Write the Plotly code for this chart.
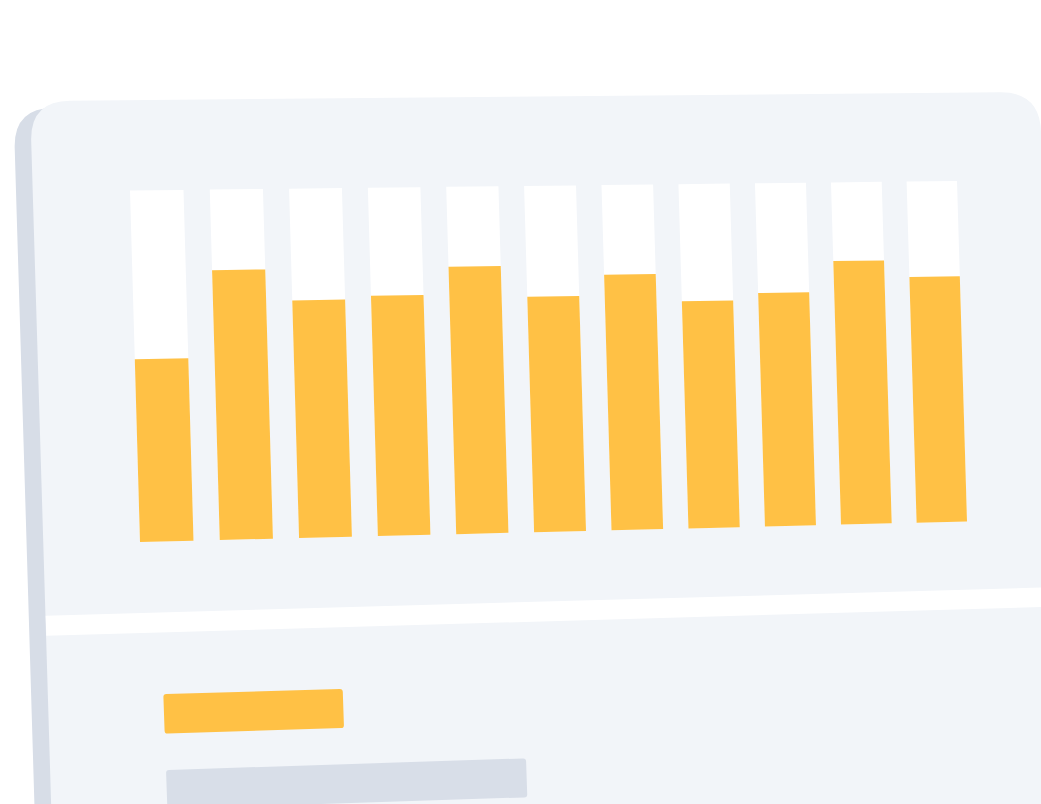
import numpy as np
import plotly.graph_objects as go

# ---- data ----
categories = [f"B{i+1}" for i in range(11)]
values = [52, 77, 68, 69, 77, 68, 74, 66, 68, 77, 72]   # filled share (%)
full = [100] * len(values)

# ---- colours ----
YELLOW = "#FFC145"
CARD = "#F2F5F9"
SHADOW = "#D7DDE7"
GRAY = "#D8DEE8"

W, H = 1041, 804

# perspective mapping of the chart plane (slot u, value v in 0..1) onto the page
BAR_W = 0.67
U = len(values) - 1 + BAR_W
src = [(0, 1), (U, 1), (0, 0), (U, 0)]
dst = [(130, 190.5), (957, 181), (140, 542), (967, 521.5)]
A, b = [], []
for (u, v), (x, y) in zip(src, dst):
    A.append([u, v, 1, 0, 0, 0, -u * x, -v * x]); b.append(x)
    A.append([0, 0, 0, u, v, 1, -u * y, -v * y]); b.append(y)
h = np.linalg.solve(np.array(A, float), np.array(b, float))
Hm = np.append(h, 1).reshape(3, 3)


def proj(u, v):
    p = Hm @ np.array([u, v, 1.0])
    return p[0] / p[2], p[1] / p[2]


def quad(i, v0, v1):
    pts = [proj(i, v0), proj(i + BAR_W, v0), proj(i + BAR_W, v1), proj(i, v1), proj(i, v0)]
    return [p[0] for p in pts], [p[1] for p in pts]


def rounded_path(pts, radii):
    n = len(pts)
    P = [np.array(p, float) for p in pts]
    segs = []
    for k in range(n):
        prev, cur, nxt = P[k - 1], P[k], P[(k + 1) % n]
        r = radii[k]
        d1 = (prev - cur) / np.linalg.norm(prev - cur)
        d2 = (nxt - cur) / np.linalg.norm(nxt - cur)
        a = cur + d1 * r
        c = cur + d2 * r
        segs.append((a, cur, c))
    path = f"M {segs[0][0][0]:.2f},{segs[0][0][1]:.2f} "
    for k, (a, cur, c) in enumerate(segs):
        if k > 0:
            path += f"L {a[0]:.2f},{a[1]:.2f} "
        path += f"Q {cur[0]:.2f},{cur[1]:.2f} {c[0]:.2f},{c[1]:.2f} "
    path += "Z"
    return path


fig = go.Figure()

# bars: white track + yellow fill
for i, (cat, val, fv) in enumerate(zip(categories, values, full)):
    xs, ys = quad(i, 0, fv / 100)
    fig.add_trace(go.Scatter(x=xs, y=ys, fill="toself", fillcolor="#FFFFFF", mode="lines",
                             line=dict(width=0, color="#FFFFFF"), hoverinfo="skip",
                             showlegend=False, name=cat))
    xs, ys = quad(i, 0, val / 100)
    fig.add_trace(go.Scatter(x=xs, y=ys, fill="toself", fillcolor=YELLOW, mode="lines",
                             line=dict(width=0, color=YELLOW), hoverinfo="text",
                             text=f"{cat}: {val}%", showlegend=False, name=cat))

# card, shadow, divider, placeholder pills
card_pts = [(30, 101), (1040, 92), (1060, 900), (54, 900)]
shadow_pts = [(x - 16.5, y + 7) for x, y in card_pts]
shapes = [
    dict(type="path", path=rounded_path(shadow_pts, [40, 40, 0.1, 0.1]), fillcolor=SHADOW,
         line=dict(width=0), layer="below"),
    dict(type="path", path=rounded_path(card_pts, [40, 40, 0.1, 0.1]), fillcolor=CARD,
         line=dict(width=0), layer="below"),
    dict(type="path", path="M 45.7,615.7 L 1060,587 L 1060,606.5 L 46.3,635.7 Z",
         fillcolor="#FFFFFF", line=dict(width=0), layer="below"),
    dict(type="path", path=rounded_path([(163.3, 694), (342.7, 689), (344, 728), (164.7, 733.7)],
                                        [3, 3, 3, 3]),
         fillcolor=YELLOW, line=dict(width=0), layer="below"),
    dict(type="path", path=rounded_path([(166, 770), (526, 758.3), (527.3, 797.3), (167.4, 809)],
                                        [3, 3, 3, 3]),
         fillcolor=GRAY, line=dict(width=0), layer="below"),
]

fig.update_layout(
    width=W, height=H, margin=dict(l=0, r=0, t=0, b=0),
    paper_bgcolor="#FFFFFF", plot_bgcolor="#FFFFFF",
    xaxis=dict(range=[0, W], visible=False, fixedrange=True),
    yaxis=dict(range=[H, 0], visible=False, fixedrange=True),
    shapes=shapes, showlegend=False,
)

fig.write_html("out.html", config={"displayModeBar": False},
               post_script="document.body.style.margin='0';document.body.style.overflow='hidden';")
